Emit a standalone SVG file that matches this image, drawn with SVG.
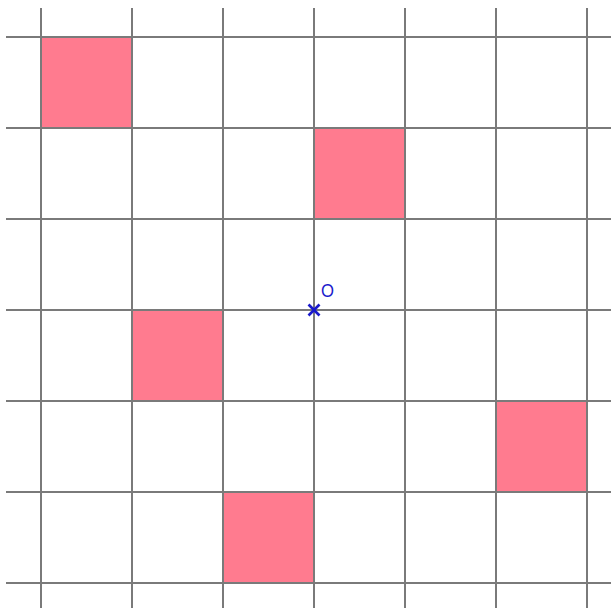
<svg xmlns="http://www.w3.org/2000/svg" width="611" height="608" viewBox="0 0 611 608">
<style>
.sq{fill:#ff7b8f;stroke:none}
.g line{stroke:#7a7a7a;stroke-width:2}
.pt{stroke:#1a1acc;stroke-width:2.6}
.lbl{font-family:"Liberation Sans",Arial,sans-serif;font-size:18px;fill:#1a1acc}
</style>
<rect width="611" height="608" fill="#fff"/>
<g id="squares">
<rect id="sq1" class="sq" x="41" y="37" width="91" height="91"/>
<rect id="sq2" class="sq" x="314" y="128" width="91" height="91"/>
<rect id="sq3" class="sq" x="132" y="310" width="91" height="91"/>
<rect id="sq4" class="sq" x="496" y="401" width="91" height="91"/>
<rect id="sq5" class="sq" x="223" y="492" width="91" height="91"/>
</g>
<g id="grid" class="g">
<line x1="41" y1="8" x2="41" y2="608"/>
<line x1="132" y1="8" x2="132" y2="608"/>
<line x1="223" y1="8" x2="223" y2="608"/>
<line x1="314" y1="8" x2="314" y2="608"/>
<line x1="405" y1="8" x2="405" y2="608"/>
<line x1="496" y1="8" x2="496" y2="608"/>
<line x1="587" y1="8" x2="587" y2="608"/>
<line x1="6" y1="37" x2="611" y2="37"/>
<line x1="6" y1="128" x2="611" y2="128"/>
<line x1="6" y1="219" x2="611" y2="219"/>
<line x1="6" y1="310" x2="611" y2="310"/>
<line x1="6" y1="401" x2="611" y2="401"/>
<line x1="6" y1="492" x2="611" y2="492"/>
<line x1="6" y1="583" x2="611" y2="583"/>
</g>
<g id="O">
<line class="pt" x1="308.5" y1="304.5" x2="319.5" y2="315.5"/>
<line class="pt" x1="308.5" y1="315.5" x2="319.5" y2="304.5"/>
<text class="lbl" x="321" y="297" textLength="13" lengthAdjust="spacingAndGlyphs">O</text>
</g>
</svg>
